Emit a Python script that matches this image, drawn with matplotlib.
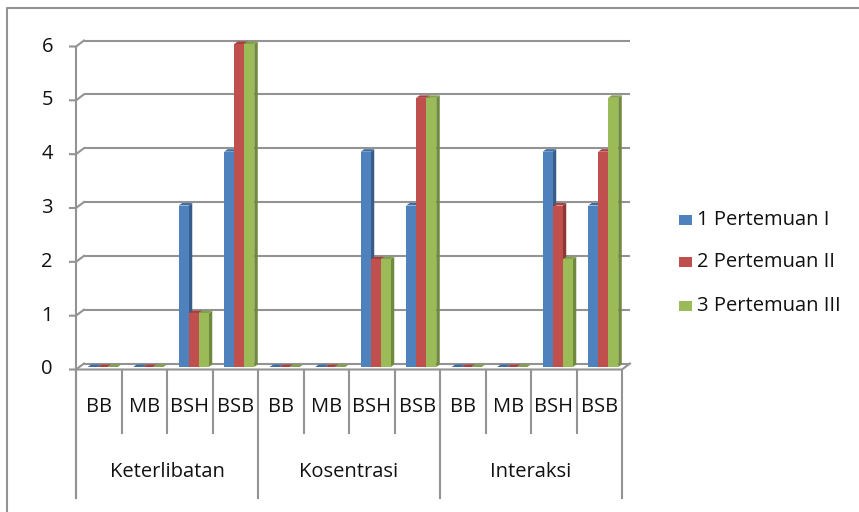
import matplotlib
matplotlib.use("Agg")
import matplotlib.pyplot as plt
import matplotlib.transforms as mtransforms
from matplotlib.patches import Polygon, Rectangle
from matplotlib.lines import Line2D

# ---------------- data ----------------
groups = ["Keterlibatan", "Kosentrasi", "Interaksi"]
levels = ["BB", "MB", "BSH", "BSB"]
series_names = ["1 Pertemuan I", "2 Pertemuan II", "3 Pertemuan III"]
pertemuan_1 = [0, 0, 3, 4, 0, 0, 4, 3, 0, 0, 4, 3]
pertemuan_2 = [0, 0, 1, 6, 0, 0, 2, 5, 0, 0, 3, 4]
pertemuan_3 = [0, 0, 1, 6, 0, 0, 2, 5, 0, 0, 2, 5]
y_ticks = [0, 1, 2, 3, 4, 5, 6]

series = [pertemuan_1, pertemuan_2, pertemuan_3]
front_cols = ["#4F81BD", "#C0504D", "#9BBB59"]
side_cols = ["#385D8A", "#8C3836", "#71893F"]
top_cols = ["#3E6DA6", "#A8413E", "#83A04A"]

W, H = 859, 512
DPI = 100
FONT = "Open Sans"
FS = 14.5
GRAY = "#939393"
TXT = "#111111"

fig = plt.figure(figsize=(W / DPI, H / DPI), dpi=DPI)
fig.patch.set_facecolor("white")

ncat = len(pertemuan_1)
# bar plane (middle depth) in pixels
plane_left, plane_right = 80, 626
plane_y0, plane_y6 = 367, 44
ax = fig.add_axes([plane_left / W, (H - plane_y0) / H,
                   (plane_right - plane_left) / W, (plane_y0 - plane_y6) / H])
ax.set_xlim(0, ncat)
ax.set_ylim(0, max(y_ticks))
ax.axis("off")
ax.patch.set_alpha(0)


def px_off(dx, dy):
    return mtransforms.ScaledTranslation(dx / DPI, dy / DPI, fig.dpi_scale_trans)


front_t = ax.transData + px_off(-4, -2.5)
back_t = ax.transData + px_off(4, 3.5)

# figure-pixel (top origin) y helper
def fy(ypx):
    return (H - ypx) / H

lw = 1.5
# back wall gridlines
for v in y_ticks:
    ax.plot([0, ncat], [v, v], color=GRAY, lw=lw, transform=back_t,
            clip_on=False, zorder=1, solid_capstyle="butt")
# left wall diagonals and ticks
for v in y_ticks:
    p_front = front_t.transform((0, v))
    p_back = back_t.transform((0, v))
    fig.add_artist(Line2D([p_front[0] - 6, p_front[0], p_back[0]],
                          [p_front[1], p_front[1], p_back[1]],
                          transform=None, color=GRAY, lw=lw, zorder=2))
# floor front edge and right edge
pf0 = front_t.transform((0, 0))
pf1 = front_t.transform((ncat, 0))
pb1 = back_t.transform((ncat, 0))
fig.add_artist(Line2D([pf0[0], pf1[0], pb1[0]], [pf0[1], pf1[1], pb1[1]],
                      transform=None, color=GRAY, lw=lw, zorder=2))
# left axis
pt6 = front_t.transform((0, max(y_ticks)))
fig.add_artist(Line2D([pt6[0], pt6[0]], [pt6[1], (H - 498)],
                      transform=None, color=GRAY, lw=lw, zorder=2))

# y tick labels
for v in y_ticks:
    p = front_t.transform((0, v))
    fig.text((p[0] - 23) / W, p[1] / H, str(v), ha="right", va="center",
             fontsize=FS, family=FONT, color=TXT)

# category separators and labels
n_lv = len(levels)
for k in range(ncat + 1):
    xp = front_t.transform((k, 0))[0]
    bottom = 498 if k % n_lv == 0 else 433
    fig.add_artist(Line2D([xp, xp], [pf0[1], H - bottom], transform=None,
                          color=GRAY, lw=lw, zorder=2))
for k in range(ncat):
    xp = front_t.transform((k + 0.5, 0))[0]
    fig.text(xp / W, fy(407), levels[k % n_lv], ha="center", va="center",
             fontsize=FS, family=FONT, color=TXT)
for g, name in enumerate(groups):
    xp = front_t.transform((g * n_lv + n_lv / 2, 0))[0]
    fig.text(xp / W, fy(472), name, ha="center", va="center",
             fontsize=FS, family=FONT, color=TXT)

# bars (pseudo 3D)
ppu = ax.transData.transform((1, 1)) - ax.transData.transform((0, 0))
ddx, ddy = 3.5 / ppu[0], 2.5 / ppu[1]
bw = 0.22
z = 5
for k in range(ncat):
    for s in range(len(series)):
        v = series[s][k]
        x0 = k + 0.5 + (s - 1.5) * bw
        x1 = x0 + bw
        side = Polygon([(x1, 0), (x1 + ddx, ddy), (x1 + ddx, v + ddy), (x1, v)],
                       closed=True, facecolor=side_cols[s], edgecolor="none",
                       zorder=z, clip_on=False)
        top = Polygon([(x0, v), (x0 + ddx, v + ddy), (x1 + ddx, v + ddy), (x1, v)],
                      closed=True, facecolor=top_cols[s], edgecolor="none",
                      zorder=z, clip_on=False)
        front = Rectangle((x0, 0), bw, v, facecolor=front_cols[s],
                          edgecolor="none", zorder=z + 1, clip_on=False)
        ax.add_patch(side)
        ax.add_patch(top)
        ax.add_patch(front)
        z += 2

# legend
leg_y = [220, 262, 306]
for s, name in enumerate(series_names):
    fig.add_artist(Rectangle((679 / W, fy(leg_y[s] + 5)), 13 / W, 10 / H,
                             transform=fig.transFigure, facecolor=front_cols[s],
                             edgecolor="none"))
    fig.text(697 / W, fy(leg_y[s]), name, ha="left", va="center",
             fontsize=FS, family=FONT, color=TXT)

# outer border
fig.add_artist(Line2D([7 / W, 7 / W, 1], [0, fy(8), fy(8)],
                      transform=fig.transFigure, color=GRAY, lw=1.5))

fig.savefig("out.png", dpi=DPI)
